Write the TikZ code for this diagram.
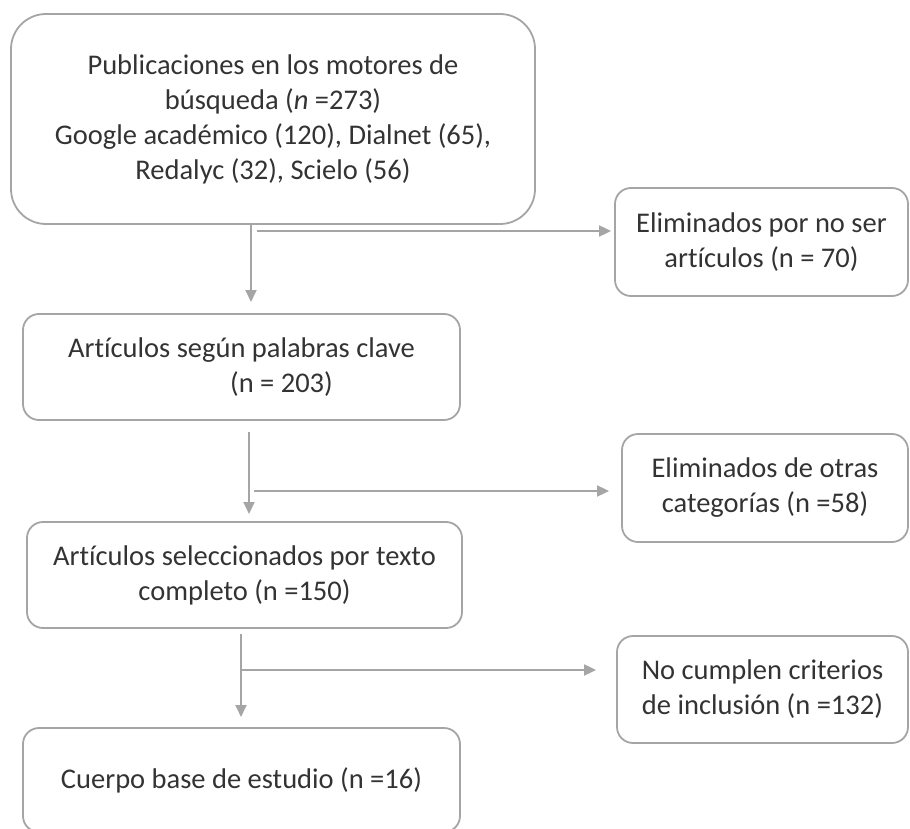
\documentclass[tikz,border=0pt]{standalone}
\usepackage{fontspec}
\setmainfont{Carlito}[Ligatures={NoCommon}]
\usetikzlibrary{arrows.meta}
\definecolor{edge}{HTML}{A5A5A5}
\definecolor{ink}{HTML}{333333}
\tikzset{
  box/.style={draw=edge, line width=1.8pt, rounded corners=16pt, text=ink, align=center,
    font=\fontsize{28.5}{35}\selectfont, inner sep=0pt},
  arr/.style={draw=edge, line width=1.8pt, -{Triangle[length=12pt,width=11pt]}},
}
\begin{document}
\begin{tikzpicture}[x=1pt,y=-1pt]
\useasboundingbox (0,0) rectangle (910,829);
\clip (0,0) rectangle (910,829);
\node[box, rounded corners=35pt, minimum width=524pt, minimum height=210pt] (b1) at (273,119)
  {Publicaciones en los motores de\\b\'usqueda (\textit{n} =273)\\Google acad\'emico (120), Dialnet (65),\\Redalyc (32), Scielo (56)};
\node[box, minimum width=293pt, minimum height=108pt] (e1) at (761.5,242)
  {Eliminados por no ser\\art\'iculos (n = 70)};
\node[box, minimum width=437pt, minimum height=106pt] (b2) at (241.5,367)
  {Art\'iculos seg\'un palabras clave\\\hspace*{80pt}(n = 203)};
\node[box, minimum width=286pt, minimum height=108pt] (e2) at (765,488)
  {Eliminados de otras\\categor\'ias (n =58)};
\node[box, minimum width=435pt, minimum height=106pt] (b3) at (244.5,575)
  {Art\'iculos seleccionados por texto\\completo (n =150)};
\node[box, minimum width=291pt, minimum height=107pt] (e3) at (762.5,689.5)
  {No cumplen criterios\\de inclusi\'on (n =132)};
\node[box, minimum width=437pt, minimum height=104pt] (b4) at (241.5,780)
  {Cuerpo base de estudio (n =16)};

\coordinate (t1) at (251,302);
\coordinate (h1) at (257,231);
\draw[arr] (t1 |- b1.south) -- (t1);
\draw[arr] (h1) -- ([xshift=-3pt]h1 -| e1.west);

\coordinate (t2) at (249,514);
\coordinate (h2) at (254,491);
\draw[arr] ([yshift=-11pt]t2 |- b2.south) -- (t2);
\draw[arr] (h2) -- ([xshift=-12pt]h2 -| e2.west);

\coordinate (t3) at (241,717);
\coordinate (h3) at (241,670);
\draw[arr] ([yshift=-5pt]t3 |- b3.south) -- (t3);
\draw[arr] (h3) -- ([xshift=-20pt]h3 -| e3.west);
\end{tikzpicture}
\end{document}
